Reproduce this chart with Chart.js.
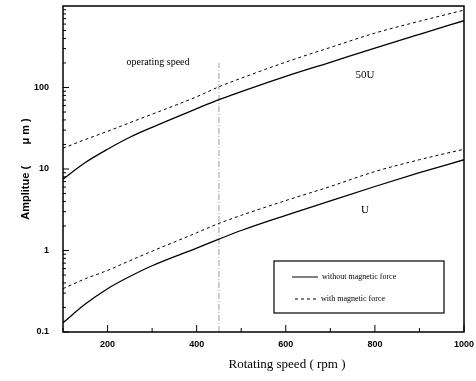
<!DOCTYPE html>
<html lang="en">
<head>
    <meta charset="UTF-8">
    <title>Amplitude vs rotating speed</title>
    <script src="https://cdn.jsdelivr.net/npm/chart.js"></script>
    <style>
        body { margin: 0; background: #fff; }
        canvas { display: block; }
    </style>
</head>
<body>
    <canvas id="ampChart" width="476" height="381"></canvas>

    <script>
        // data
        const speed = [100, 150, 200, 250, 300, 400, 450, 500, 600, 700, 800, 900, 1000];
        const amp50U_without = [7.5, 12, 17.5, 24.5, 32.5, 55, 71, 89, 137, 204, 305, 450, 660];
        const amp50U_with = [18, 23, 29, 37, 47, 77, 102, 130, 205, 310, 465, 650, 890];
        const ampU_without = [0.13, 0.22, 0.34, 0.48, 0.65, 1.07, 1.38, 1.76, 2.7, 4.07, 6.1, 9.0, 13];
        const ampU_with = [0.34, 0.45, 0.57, 0.75, 0.98, 1.65, 2.15, 2.7, 4.1, 6.1, 9.3, 13, 17.5];
        const opSpeedX = [450, 450];
        const opSpeedY = [0.1, 200];
        const xTicks = [200, 400, 600, 800, 1000];
        const xMinorTicks = [100, 300, 500, 700, 900];
        const yTicks = [0.1, 1, 10, 100];
        const legendLabels = ["without magnetic force", "with magnetic force"];

        const pts = (xs, ys) => xs.map((x, i) => ({ x: x, y: ys[i] }));

        const solid = { borderColor: "#000", borderWidth: 1.3, pointRadius: 0, tension: 0.4, cubicInterpolationMode: "monotone", fill: false };
        const dashed = { borderColor: "#000", borderWidth: 1, borderDash: [3, 3], pointRadius: 0, tension: 0.4, cubicInterpolationMode: "monotone", fill: false };

        const noPad = s => { s.paddingTop = 0; s.paddingBottom = 0; s.paddingLeft = 0; s.paddingRight = 0; };

        // frame, inward ticks, titles, notes and legend
        const extras = {
            id: "extras",
            afterDraw(chart) {
                const c = chart.ctx;
                const a = chart.chartArea;
                const xs = chart.scales.x, ys = chart.scales.y;
                c.save();
                c.strokeStyle = "#000";
                c.lineWidth = 1.5;
                c.strokeRect(a.left, a.top, a.right - a.left, a.bottom - a.top);

                c.lineWidth = 1;
                c.beginPath();
                xTicks.forEach(v => { const p = xs.getPixelForValue(v); c.moveTo(p, a.bottom); c.lineTo(p, a.bottom - 7); });
                xMinorTicks.forEach(v => { const p = xs.getPixelForValue(v); c.moveTo(p, a.bottom); c.lineTo(p, a.bottom - 4); });
                yTicks.forEach(d => {
                    for (let k = 1; k < 10; k++) {
                        const p = ys.getPixelForValue(d * k);
                        c.moveTo(a.left, p);
                        c.lineTo(a.left + (k === 1 ? 6 : 3), p);
                    }
                });
                c.stroke();

                c.fillStyle = "#000";
                // axis titles
                c.font = "13px 'Liberation Serif'";
                c.textAlign = "center";
                c.textBaseline = "middle";
                c.fillText("Rotating speed ( rpm )", 287, 365);
                c.save();
                c.translate(26, 169);
                c.rotate(-Math.PI / 2);
                c.font = "bold 11px 'Liberation Sans'";
                c.fillText("Amplitue (       \u03bc m )", 0, 0);
                c.restore();

                // notes
                c.font = "10px 'Liberation Serif'";
                c.fillText("operating speed", 158, 62);
                c.font = "11px 'Liberation Serif'";
                c.fillText("50U", 365, 75);
                c.fillText("U", 365, 210);

                // legend box
                c.lineWidth = 1.2;
                c.strokeRect(274, 261, 170, 52);
                c.lineWidth = 1;
                c.beginPath();
                c.moveTo(292, 277); c.lineTo(318, 277);
                c.stroke();
                c.setLineDash([3, 3]);
                c.beginPath();
                c.moveTo(295, 299); c.lineTo(318, 299);
                c.stroke();
                c.setLineDash([]);
                c.font = "8px 'Liberation Serif'";
                c.textAlign = "left";
                c.fillText(legendLabels[0], 322, 277);
                c.fillText(legendLabels[1], 321, 299);
                c.restore();
            }
        };

        const ctx = document.getElementById("ampChart").getContext("2d");
        new Chart(ctx, {
            type: "line",
            data: {
                datasets: [
                    { label: legendLabels[0], data: pts(speed, amp50U_without), ...solid },
                    { label: legendLabels[1], data: pts(speed, amp50U_with), ...dashed },
                    { label: legendLabels[0], data: pts(speed, ampU_without), ...solid },
                    { label: legendLabels[1], data: pts(speed, ampU_with), ...dashed },
                    { label: "operating speed", data: pts(opSpeedX, opSpeedY), borderColor: "#888", borderWidth: 0.8, borderDash: [6, 2, 1, 2], pointRadius: 0, fill: false }
                ]
            },
            options: {
                responsive: false,
                animation: false,
                devicePixelRatio: 1,
                layout: { padding: { left: 0, right: 12, top: 6, bottom: 0 } },
                plugins: { legend: { display: false }, tooltip: { enabled: false } },
                scales: {
                    x: {
                        type: "linear",
                        min: 100,
                        max: 1000,
                        grid: { display: false, drawTicks: false },
                        border: { display: false },
                        afterBuildTicks: s => { s.ticks = xTicks.map(v => ({ value: v })); },
                        afterFit: s => { s.height = 49; noPad(s); },
                        ticks: { color: "#000", padding: 7, font: { family: "Liberation Sans", size: 9, weight: "bold" }, callback: v => String(v) }
                    },
                    y: {
                        type: "logarithmic",
                        min: 0.1,
                        max: 1000,
                        grid: { display: false, drawTicks: false },
                        border: { display: false },
                        afterBuildTicks: s => { s.ticks = yTicks.map(v => ({ value: v })); },
                        afterFit: s => { s.width = 63; noPad(s); },
                        ticks: { color: "#000", padding: 14, font: { family: "Liberation Sans", size: 9, weight: "bold" }, callback: v => String(v) }
                    }
                }
            },
            plugins: [extras]
        });
    </script>
</body>
</html>
